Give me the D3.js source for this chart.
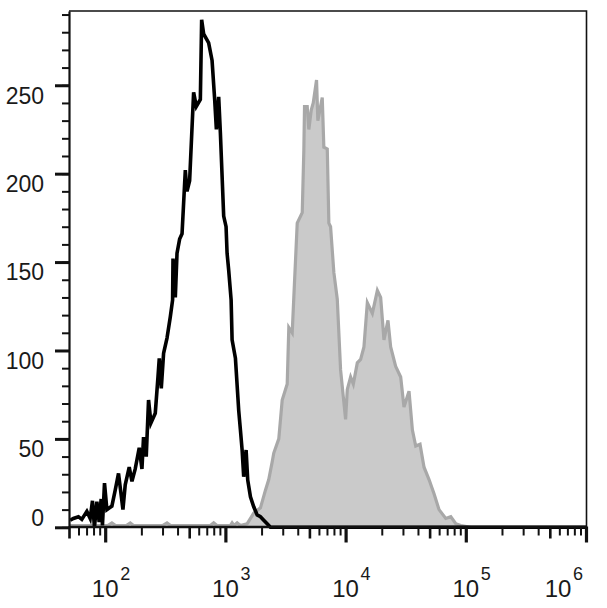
<!DOCTYPE html>
<html>
<head>
<meta charset="utf-8">
<script src="https://cdn.jsdelivr.net/npm/d3@7"></script>
<style>
  html, body { margin: 0; padding: 0; background: #fff; }
  svg { display: block; }
  text { font-family: "Liberation Sans", Arial, sans-serif; fill: #1a1a1a; }
</style>
</head>
<body>
<svg id="chart" width="607" height="608"></svg>
<script>
// ---- data (intensity, count) ----
const controlX = [51.1, 54.4, 59.9, 63.9, 70.4, 75.0, 78.4, 81.4, 85.3, 89.1, 92.6, 94.9, 98.7, 103.3, 113.7, 121.2, 129.1, 140.5, 146.8, 158.5, 167, 177.8, 192, 202.2, 208.5, 219.6, 229.5, 240.3, 261, 274.9, 281.8, 292.9, 306.1, 326.8, 348.1, 363.8, 366.6, 383.1, 395.9, 416.2, 435.8, 464.2, 479.5, 504, 544.2, 573.2, 619, 634.6, 659.4, 725.6, 774.8, 814.3, 841.4, 879.4, 908.6, 967.9, 1013, 1033, 1065, 1116, 1137, 1212, 1291, 1334, 1378, 1420, 1487, 1534, 1616, 1721, 1838, 1957, 2085, 2226, 2371, 1000000];
const controlY = [4, 5, 6, 4.5, 9, 5, 15, 0, 14.5, 3, 16, 1, 25, 10, 12, 21, 30.5, 10, 24, 34, 26, 33, 45, 33, 51, 40, 72, 59, 64.5, 85, 95.6, 78.6, 98.4, 107, 119, 128.6, 152, 130, 155, 163, 166, 202, 190, 196, 246, 238, 242, 287, 279, 274, 264, 242, 225, 243.5, 223, 176, 170, 155, 145.5, 128.6, 106, 95.6, 66, 55, 43.7, 28.6, 43.7, 26.7, 17.3, 11.6, 7, 6, 4, 2, 0, 0];

const stainedX = [50, 105, 113.7, 122, 150, 161.6, 172, 300, 326.8, 350, 750, 798.9, 850, 1100, 1137, 1180, 1253, 1330, 1516, 1721, 1957, 2154, 2295, 2451, 2526, 2781, 2969, 3268, 3370, 3596, 3709, 3959, 4358, 4493, 4553, 4795, 4945, 5178, 5380, 5732, 5878, 6394, 6594, 7040, 7259, 7499, 7989, 8527, 9085, 10000, 10330, 11010, 11594, 12515, 13335, 14213, 15166, 16698, 18378, 19574, 20859, 22519, 23714, 26102, 28731, 30605, 33696, 35960, 38312, 41614, 44925, 49449, 54421, 59899, 68129, 74989, 82540, 90851, 110000, 1000000];
const stainedY = [1, 1, 2.5, 1, 1, 2.5, 1, 1, 2.5, 1, 1, 2.5, 1, 1, 2.5, 1, 2.5, 1, 2, 8, 11, 21, 27, 37, 42, 50, 72, 81, 113, 110, 130, 172, 178, 213, 238, 238, 225, 236, 240, 253, 230, 243, 215, 214, 172, 170, 144, 129, 89, 61, 78, 85, 81, 93, 95, 102, 127, 121, 134, 130, 106, 117, 102, 91, 85, 68, 77, 55, 46, 47, 34, 27, 19, 10, 5, 6, 2, 1, 0, 0];

const xDomain = [50, 1000000];
const yDomain = [0, 292];
const yMajorTicks = [0, 50, 100, 150, 200, 250];
const yMinorTicks = d3.range(0, 291, 10);
const xMajorTicks = [100, 1000, 10000, 100000, 1000000];
const xExponents = ["2", "3", "4", "5", "6"];

(function () {
// ---- layout ----
const svg = d3.select("#chart");
const pLeft = 69, pRight = 586, pTop = 11, pBottom = 527.3;
const x = d3.scaleLog().domain(xDomain).range([pLeft, pRight]);
const y = d3.scaleLinear().domain(yDomain).range([pBottom, pTop]);

const mant = v => Math.round(v / Math.pow(10, Math.floor(Math.log10(v) + 1e-9)));
const xAll = [];
for (let e = 1; e <= 5; e++) for (let m = 1; m <= 9; m++) {
  const v = m * Math.pow(10, e);
  if (v >= 50 && v <= 1000000) xAll.push(v);
}
const xMinor = xAll.filter(v => mant(v) !== 1 && mant(v) !== 5);
const xMedium = xAll.filter(v => mant(v) === 5);

const stained = stainedX.map((d, i) => [d, stainedY[i]]);
const control = controlX.map((d, i) => [d, controlY[i]]);

// ---- stained (filled grey) ----
svg.append("path")
  .datum(stained)
  .attr("d", d3.area().x(d => x(d[0])).y0(y(0)).y1(d => y(d[1])))
  .attr("fill", "#cacaca")
  .attr("stroke", "none");
svg.append("path")
  .datum(stained)
  .attr("d", d3.line().x(d => x(d[0])).y(d => y(d[1])))
  .attr("fill", "none")
  .attr("stroke", "#a8a8a8")
  .attr("stroke-width", 3.2)
  .attr("stroke-linejoin", "miter");

// ---- control (black outline) ----
svg.append("path")
  .datum(control)
  .attr("d", d3.line().x(d => x(d[0])).y(d => y(d[1])))
  .attr("fill", "none")
  .attr("stroke", "#000")
  .attr("stroke-width", 3.6)
  .attr("stroke-linejoin", "miter");

// ---- frame ----
svg.append("path")
  .attr("d", `M${pLeft},${pTop}H${pRight + 0.5}V${pBottom}`)
  .attr("fill", "none").attr("stroke", "#111").attr("stroke-width", 1.6);

// ---- y axis ----
const yMinorAxis = svg.append("g").attr("transform", `translate(${pLeft},0)`)
  .call(d3.axisLeft(y).tickValues(yMinorTicks).tickSize(7).tickSizeOuter(0).tickFormat(""));
yMinorAxis.selectAll("line").attr("stroke", "#111").attr("stroke-width", 2);
yMinorAxis.select(".domain").attr("stroke", "#111").attr("stroke-width", 2.2);
const yMajorAxis = svg.append("g").attr("transform", `translate(${pLeft},0)`)
  .call(d3.axisLeft(y).tickValues(yMajorTicks).tickSize(14).tickFormat(""));
yMajorAxis.select(".domain").remove();
yMajorAxis.selectAll("line").attr("stroke", "#111").attr("stroke-width", 3);

svg.append("g").selectAll("text").data(yMajorTicks).join("text")
  .attr("x", 44)
  .attr("y", d => y(d) + (d === 0 ? -1.3 : 18.3))
  .attr("text-anchor", "end")
  .attr("font-size", 23)
  .text(d => d);

// ---- x axis ----
const xAxisY = 526.5;
const xMinorAxis = svg.append("g").attr("transform", `translate(0,${xAxisY})`)
  .call(d3.axisBottom(x).tickValues(xMinor).tickSize(9).tickSizeOuter(0).tickFormat(""));
xMinorAxis.select(".domain").attr("stroke", "#111").attr("stroke-width", 2.6);
xMinorAxis.selectAll("line").attr("stroke", "#111").attr("stroke-width", 2);
const xMedAxis = svg.append("g").attr("transform", `translate(0,${xAxisY})`)
  .call(d3.axisBottom(x).tickValues(xMedium).tickSize(12).tickFormat(""));
xMedAxis.select(".domain").remove();
xMedAxis.selectAll("line").attr("stroke", "#111").attr("stroke-width", 2.6);
const xMajAxis = svg.append("g").attr("transform", `translate(0,${xAxisY})`)
  .call(d3.axisBottom(x).tickValues(xMajorTicks).tickSize(16).tickFormat(""));
xMajAxis.select(".domain").remove();
xMajAxis.selectAll("line").attr("stroke", "#111").attr("stroke-width", 3.2);

const xl = svg.append("g").selectAll("g").data(xMajorTicks).join("g")
  .attr("transform", (d, i) => `translate(${x(d) + (i === xMajorTicks.length - 1 ? -28 : 0)},0)`);
xl.append("text")
  .attr("x", 0).attr("y", 597)
  .attr("text-anchor", "middle")
  .attr("font-size", 24)
  .text("10");
xl.append("text")
  .attr("x", 15).attr("y", 579.5)
  .attr("text-anchor", "start")
  .attr("font-size", 18)
  .text((d, i) => xExponents[i]);
})();
</script>
</body>
</html>
